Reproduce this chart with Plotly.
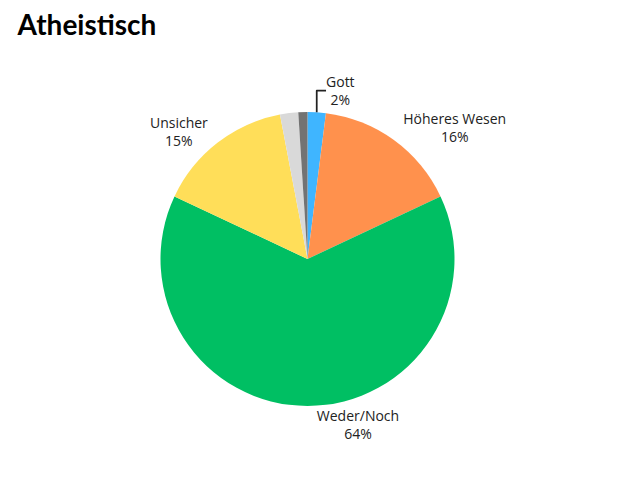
import plotly.graph_objects as go

labels = ["Gott", "Höheres Wesen", "Weder/Noch", "Unsicher", "Sonstiges", "Keine Angabe"]
values = [2, 16, 64, 15, 2, 1]
colors = ["#3FB5FF", "#FF914D", "#00BF63", "#FFDE59", "#D9D9D9", "#737373"]
texts = [f"{l}<br>{v}%" for l, v in zip(labels[:4], values[:4])] + ["", ""]

fig = go.Figure(go.Pie(
    labels=labels, values=values, sort=False, direction="clockwise", rotation=0,
    marker=dict(colors=colors), text=texts, textinfo="text", textposition="outside",
    textfont=dict(family="Open Sans", size=14, color="#222"),
    showlegend=False, hoverinfo="label+percent",
))
fig.update_layout(
    width=640, height=480, paper_bgcolor="white",
    margin=dict(l=60, r=60, t=104, b=82),
    title=dict(text="<b>Atheistisch</b>", x=0.015, y=0.985, xanchor="left", yanchor="top",
               font=dict(family="Lato", size=28, color="black")),
)
fig.write_html("out.html")
